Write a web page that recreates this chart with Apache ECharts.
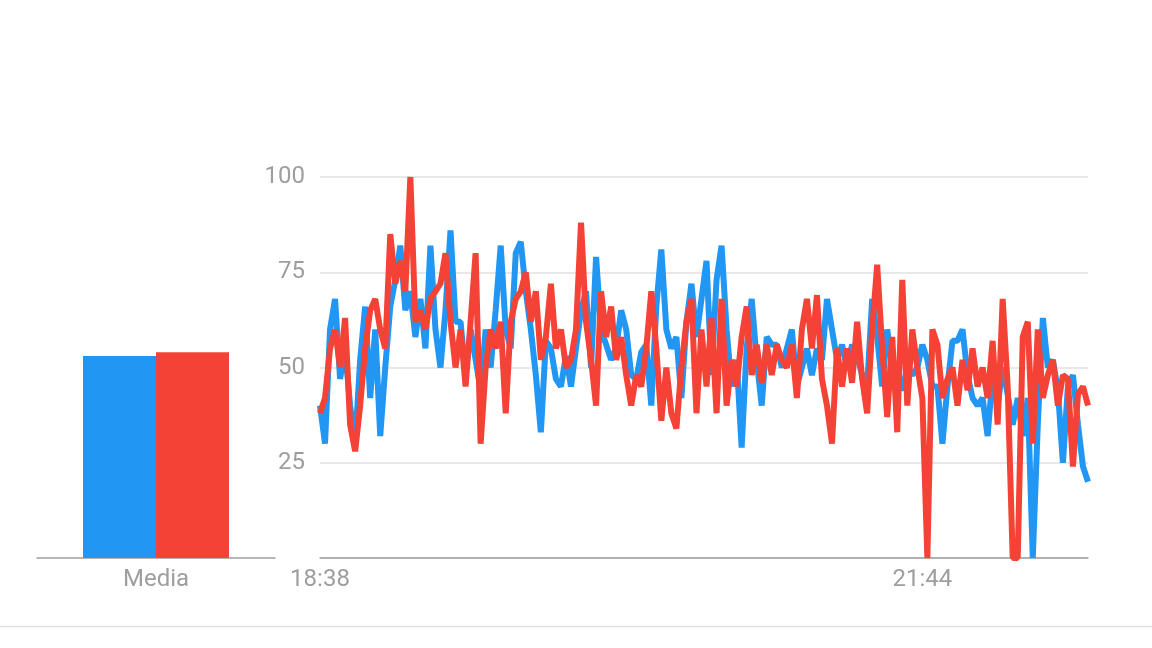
<!DOCTYPE html>
<html>
<head>
<meta charset="utf-8">
<script src="https://cdn.jsdelivr.net/npm/echarts@6/dist/echarts.min.js"></script>
<style>
html,body{margin:0;padding:0;background:#fff;}
#c{width:1152px;height:648px;}
</style>
</head>
<body>
<div id="c"></div>
<script>
// Average bar values
const barCategories = ['Media'];
const barBlue = [53];
const barRed = [54];

// Time series (evenly spaced samples)
const seriesBlue = [
  40,30,60,68,47,55,40,30,52,66,
  42,60,32,50,66,73,82,65,70,58,
  68,55,82,60,50,65,86,62,62,48,
  60,52,44,60,50,65,82,60,55,80,
  83,70,60,48,33,57,55,47,45,53,
  45,55,65,70,50,79,60,56,52,55,
  65,60,48,47,54,56,40,66,81,60,
  55,58,42,62,72,58,68,78,48,73,
  82,60,45,52,29,55,68,52,40,58,
  56,56,50,55,60,45,50,55,48,55,
  52,68,60,52,56,50,56,53,48,45,
  68,58,45,60,50,47,44,50,48,50,
  56,52,45,45,30,45,57,57,60,48,
  42,40,42,32,48,40,50,43,35,42,
  32,42,0,35,63,50,52,44,25,45,
  48,35,24,20
];
const seriesRed = [
  38,42,55,60,50,63,35,28,40,55,
  65,68,60,55,85,72,78,70,100,62,
  65,60,68,70,72,80,62,50,60,45,
  62,80,30,50,60,55,62,38,62,68,
  70,75,62,70,52,58,72,55,60,50,
  52,60,88,62,52,40,70,58,66,52,
  58,48,40,48,45,55,70,55,36,50,
  38,34,50,62,68,38,60,45,63,38,
  68,40,52,45,58,66,48,56,46,56,
  48,56,52,50,56,42,60,68,55,69,
  47,40,30,55,45,55,46,62,47,38,
  60,77,55,37,58,33,73,40,60,50,
  42,0,60,56,42,47,50,40,52,44,
  55,45,50,42,57,35,68,45,0,0,
  58,62,30,60,42,48,52,40,48,47,
  24,43,45,40
];
const xTickIndex = [0, 120];
const xTickLabels = ['18:38', '21:44'];
const yTicks = [25, 50, 75, 100];

const categories = seriesBlue.map((_, i) => String(i));

const BLUE = '#2196f3';
const RED = '#f44336';
const labelStyle = { color: '#9e9e9e', fontSize: 24, fontFamily: 'Roboto, Arial, sans-serif' };

const chart = echarts.init(document.getElementById('c'), null, { renderer: 'canvas' });
chart.setOption({
  animation: false,
  backgroundColor: '#fff',
  graphic: [{
    type: 'line',
    shape: { x1: 0, y1: 626.5, x2: 1152, y2: 626.5 },
    style: { stroke: '#e0e0e0', lineWidth: 1.5 }
  }],
  grid: [
    { left: 37, right: 877, top: 177, bottom: 90 },
    { left: 320, right: 64, top: 177, bottom: 90 }
  ],
  xAxis: [
    {
      gridIndex: 0, type: 'category', data: barCategories,
      axisLine: { lineStyle: { color: '#9e9e9e', width: 1.5 } },
      axisTick: { show: false },
      axisLabel: Object.assign({ margin: 10 }, labelStyle)
    },
    {
      gridIndex: 1, type: 'category', data: categories, boundaryGap: false,
      axisLine: { lineStyle: { color: '#9e9e9e', width: 1.5 } },
      axisTick: { show: false },
      axisLabel: Object.assign({
        margin: 10,
        interval: 0,
        showMaxLabel: false,
        formatter: (v, i) => { const k = xTickIndex.indexOf(i); return k >= 0 ? xTickLabels[k] : ''; }
      }, labelStyle)
    }
  ],
  yAxis: [
    {
      gridIndex: 0, type: 'value', min: 0, max: 100, interval: 25,
      show: false
    },
    {
      gridIndex: 1, type: 'value', min: 0, max: 100, interval: 25,
      axisLine: { show: false },
      axisTick: { show: false },
      splitLine: { lineStyle: { color: '#e0e0e0', width: 1.5 } },
      axisLabel: Object.assign({
        margin: 15,
        formatter: v => (yTicks.indexOf(v) >= 0 ? String(v) : '')
      }, labelStyle)
    }
  ],
  series: [
    {
      type: 'bar', xAxisIndex: 0, yAxisIndex: 0, data: barBlue,
      barWidth: 73, barGap: '0%', itemStyle: { color: BLUE }
    },
    {
      type: 'bar', xAxisIndex: 0, yAxisIndex: 0, data: barRed,
      barWidth: 73, barGap: '0%', itemStyle: { color: RED }
    },
    {
      type: 'line', xAxisIndex: 1, yAxisIndex: 1, data: seriesBlue,
      showSymbol: false, lineStyle: { color: BLUE, width: 6 }, itemStyle: { color: BLUE }
    },
    {
      type: 'line', xAxisIndex: 1, yAxisIndex: 1, data: seriesRed,
      showSymbol: false, lineStyle: { color: RED, width: 6 }, itemStyle: { color: RED }
    }
  ]
});
</script>
</body>
</html>
